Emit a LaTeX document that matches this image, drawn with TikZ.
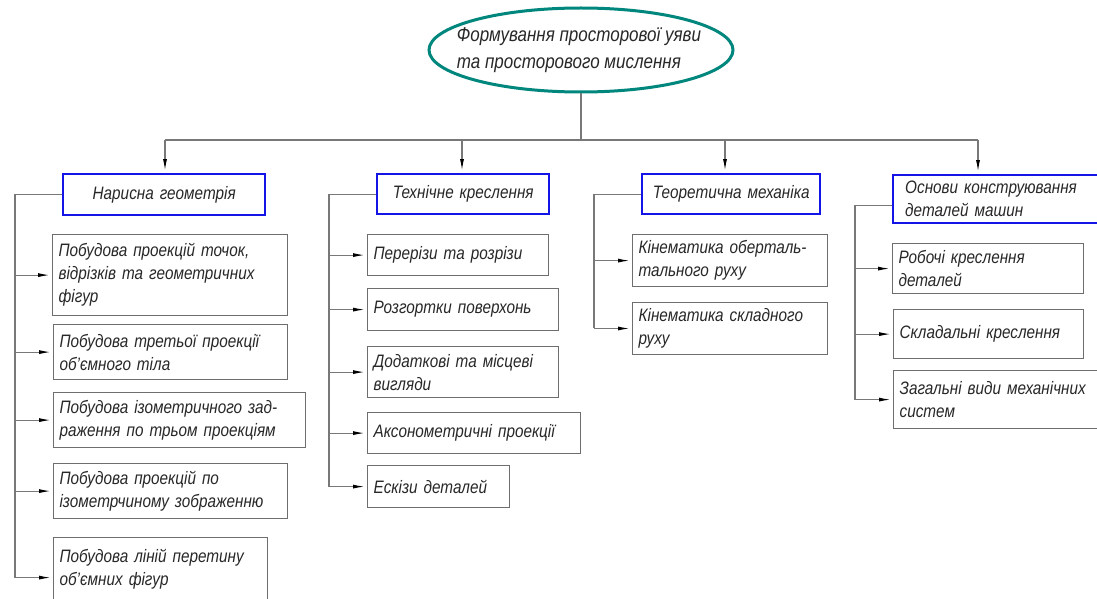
\documentclass[tikz,border=0pt]{standalone}
\usepackage{fontspec}
\setmainfont{Liberation Sans}
\newfontfamily\gostfont{Liberation Sans}[FakeStretch=0.85]
\usepackage{xcolor}
\usepackage{tikz}
\usetikzlibrary{positioning,shapes.geometric,arrows.meta,calc}
\definecolor{goalteal}{RGB}{0, 135, 125}
\definecolor{headblue}{RGB}{20, 20, 230}
\definecolor{boxgray}{RGB}{110, 110, 110}
\definecolor{linegray}{RGB}{120, 120, 120}
\definecolor{inkgray}{RGB}{40, 40, 40}

\begin{document}
\begin{tikzpicture}[x=0.5pt, y=-0.5pt]
\tikzset{
  goal/.style={ellipse, draw=goalteal, line width=1.5pt, fill=white,
    minimum width=152pt, minimum height=42pt, inner sep=0pt},
  goaltext/.style={align=left, inner sep=0pt,
    font=\gostfont\fontsize{10}{13.5}\selectfont\itshape, text=inkgray},
  head/.style={rectangle, draw=headblue, line width=1.2pt, anchor=north west,
    align=center, inner sep=3pt, font=\gostfont\fontsize{9}{11.5}\selectfont\itshape, text=inkgray},
  item/.style={rectangle, draw=boxgray, line width=0.6pt, anchor=north west,
    align=left, inner sep=3pt, font=\gostfont\fontsize{9}{11.5}\selectfont\itshape, text=inkgray},
  ln/.style={draw=linegray, line width=0.6pt},
  arr/.style={ln, -{Latex[length=6pt, width=2pt, black]}, shorten >=1pt}
}
\clip (0,0) rectangle (1097,599);
\fill[white] (0,0) rectangle (1097,599);

% top of the tree
\node[goal] (goal) at (581,50) {};
\node[goaltext] (goaltxt) at ([xshift=-1pt]goal.center) {Формування просторової уяви\\та просторового мислення};
\coordinate (busL) at (165,140);
\coordinate (busB) at (462,140);
\coordinate (busC) at (725,140);
\coordinate (busR) at (978,140);

% headers
\node[head, text width=95pt, minimum height=20.5pt] (nar) at (62,173) {Нарисна геометрія};
\node[head, text width=80pt, minimum height=20pt] (tex) at (376,173) {Технічне креслення};
\node[head, text width=83pt, minimum height=20pt] (teo) at (641,173) {Теоретична механіка};
\node[head, text width=104pt, minimum height=24pt, align=left] (osn) at (892,174) {\hspace*{3pt}Основи конструювання\\\hspace*{3pt}деталей машин};

% column 1
\node[item, text width=111.5pt, minimum height=40.5pt] (c11) at (52,234) {Побудова проекцій точок,\\відрізків та геометричних\\фігур};
\node[item, text width=111pt, minimum height=27.5pt] (c12) at (53,324) {Побудова третьої проекції\\об’ємного тіла};
\node[item, text width=120pt, minimum height=27.5pt] (c13) at (53,392) {Побудова ізометричного зад-\\раження по трьом проекціям};
\node[item, text width=111pt, minimum height=27.5pt] (c14) at (53,463) {Побудова проекцій по\\ізометрчиному зображенню};
\node[item, text width=101pt, minimum height=32pt] (c15) at (53,537) {Побудова ліній перетину\\об’ємних фігур};
\coordinate (t1) at (15,0);

% column 2
\node[item, text width=84.5pt, minimum height=20.5pt] (c21) at (367,234) {Перерізи та розрізи};
\node[item, text width=89.5pt, minimum height=21pt] (c22) at (367,288) {Розгортки поверхонь};
\node[item, text width=89.5pt, minimum height=25.5pt] (c23) at (367,346) {Додаткові та місцеві\\вигляди};
\node[item, text width=100.5pt, minimum height=20.5pt] (c24) at (367,412) {Аксонометричні проекції};
\node[item, text width=65pt, minimum height=21pt] (c25) at (367,465) {Ескізи деталей};
\coordinate (t2) at (329,0);

% column 3
\node[item, text width=91.5pt, minimum height=26pt] (c31) at (632,234) {Кінематика оберталь-\\тального руху};
\node[item, text width=91.5pt, minimum height=25.5pt] (c32) at (632,302) {Кінематика складного\\руху};
\coordinate (t3) at (594,0);

% column 4
\node[item, text width=89.5pt, minimum height=25pt] (c41) at (892,243) {Робочі креслення\\деталей};
\node[item, text width=89pt, minimum height=24.5pt] (c42) at (893,309) {Складальні креслення};
\node[item, text width=104pt, minimum height=29pt] (c43) at (893,370) {Загальні види механічних\\систем};
\coordinate (t4) at (855,0);

% connectors
\draw[ln] (goal.south) -- (goal.south |- busL);
\draw[ln] (busL) -- (busR);
\draw[arr] (busL) -- (busL |- nar.north);
\draw[arr] (busB) -- (busB |- tex.north);
\draw[arr] (busC) -- (busC |- teo.north);
\draw[arr] (busR) -- (busR |- osn.north);

\draw[ln] (nar.west) -- (t1 |- nar.west) -- (t1 |- c15.west) -- ++(0,8);
\foreach \c in {c11,c12,c13,c14}
  \draw[arr] (t1 |- \c.west) -- (\c.west);
\draw[arr] ([yshift=-4pt]t1 |- c15.west) -- ([yshift=-4pt]c15.west);
\draw[ln] (tex.west) -- (t2 |- tex.west) -- (t2 |- c25.west);
\foreach \c in {c21,c22,c23,c24,c25}
  \draw[arr] (t2 |- \c.west) -- (\c.west);
\draw[ln] (teo.west) -- (t3 |- teo.west) -- (t3 |- c32.west);
\foreach \c in {c31,c32}
  \draw[arr] (t3 |- \c.west) -- (\c.west);
\draw[ln] ([yshift=-3pt]osn.west) -- ([yshift=-3pt]t4 |- osn.west) -- (t4 |- c43.west);
\foreach \c in {c41,c42,c43}
  \draw[arr] (t4 |- \c.west) -- (\c.west);
\end{tikzpicture}
\end{document}
